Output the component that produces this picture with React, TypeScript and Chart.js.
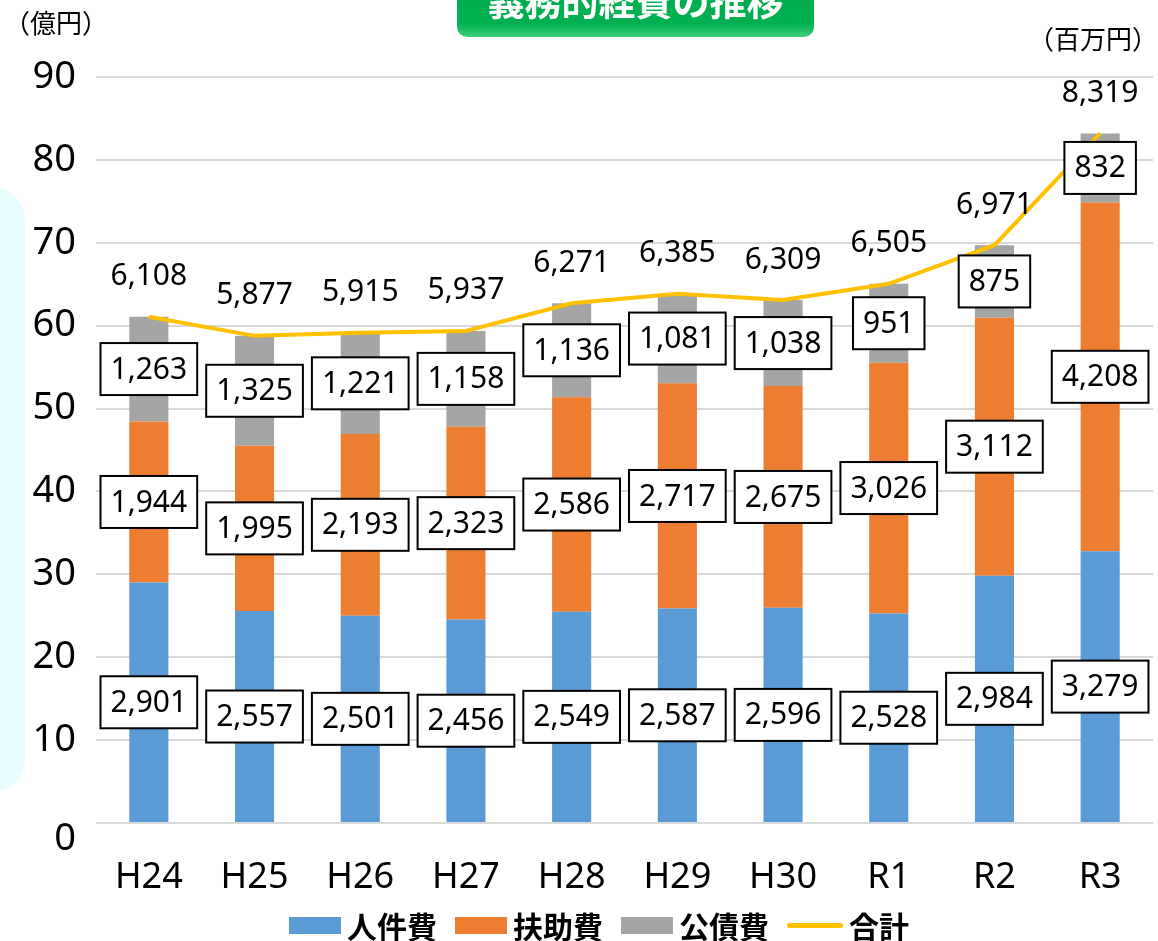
import React, { useEffect, useRef } from "react";
import { Chart, registerables } from "chart.js";

Chart.register(...registerables);

const categories = ["H24", "H25", "H26", "H27", "H28", "H29", "H30", "R1", "R2", "R3"];
const personnel = [2901, 2557, 2501, 2456, 2549, 2587, 2596, 2528, 2984, 3279];
const assistance = [1944, 1995, 2193, 2323, 2586, 2717, 2675, 3026, 3112, 4208];
const debt = [1263, 1325, 1221, 1158, 1136, 1081, 1038, 951, 875, 832];
const totals = [6108, 5877, 5915, 5937, 6271, 6385, 6309, 6505, 6971, 8319];
const seriesNames = ["人件費", "扶助費", "公債費", "合計"];
const seriesColors = ["#5B9BD5", "#ED7D31", "#A5A5A5", "#FFC000"];
const yMin = 0;
const yMax = 90;
const yStep = 10;

const NUM_FONT = '"Noto Sans", "Noto Sans CJK JP", sans-serif';
const JP_FONT = '"Noto Sans CJK JP", "Noto Sans", sans-serif';

const fmt = (v: number) => v.toLocaleString("en-US");
const toOku = (arr: number[]) => arr.map((v) => v / 100);

const labelPlugin = {
  id: "boxLabels",
  afterDatasetsDraw(chart: any) {
    const ctx = chart.ctx as CanvasRenderingContext2D;
    const raws = [personnel, assistance, debt];
    ctx.save();
    ctx.font = `30px ${NUM_FONT}`;
    ctx.textAlign = "center";
    ctx.textBaseline = "middle";
    for (let d = 0; d < 3; d++) {
      const meta = chart.getDatasetMeta(d + 1);
      meta.data.forEach((bar: any, i: number) => {
        const p = bar.getProps(["x", "y", "base"], true);
        const cy = (p.y + p.base) / 2;
        const text = fmt(raws[d][i]);
        const w = ctx.measureText(text).width + 20;
        const h = 52;
        ctx.fillStyle = "#ffffff";
        ctx.fillRect(p.x - w / 2, cy - h / 2, w, h);
        ctx.strokeStyle = "#000000";
        ctx.lineWidth = 2;
        ctx.strokeRect(p.x - w / 2, cy - h / 2, w, h);
        ctx.fillStyle = "#000000";
        ctx.fillText(text, p.x, cy + 1);
      });
    }
    const lm = chart.getDatasetMeta(0);
    ctx.fillStyle = "#000000";
    lm.data.forEach((pt: any, i: number) => {
      const p = pt.getProps(["x", "y"], true);
      ctx.fillText(fmt(totals[i]), p.x, p.y - 40);
    });
    // zero tick label, set slightly below the baseline as in the reference
    const ys = chart.scales.y;
    ctx.font = `38px ${NUM_FONT}`;
    ctx.textAlign = "right";
    ctx.fillText(String(yMin), ys.right - 20, ys.getPixelForValue(yMin) + 16);
    ctx.restore();
  },
};

function ChartCanvas() {
  const ref = useRef<HTMLCanvasElement | null>(null);
  useEffect(() => {
    if (!ref.current) return;
    const chart = new Chart(ref.current, {
      type: "bar",
      data: {
        labels: categories,
        datasets: [
          {
            type: "line",
            label: seriesNames[3],
            data: toOku(totals),
            borderColor: seriesColors[3],
            backgroundColor: seriesColors[3],
            borderWidth: 4,
            pointRadius: 0,
            tension: 0,
            order: 0,
          } as any,
          {
            label: seriesNames[0],
            data: toOku(personnel),
            backgroundColor: seriesColors[0],
            stack: "s",
            order: 1,
          },
          {
            label: seriesNames[1],
            data: toOku(assistance),
            backgroundColor: seriesColors[1],
            stack: "s",
            order: 1,
          },
          {
            label: seriesNames[2],
            data: toOku(debt),
            backgroundColor: seriesColors[2],
            stack: "s",
            order: 1,
          },
        ],
      },
      options: {
        responsive: false,
        animation: false,
        layout: { padding: { left: 0, right: 5, top: 77, bottom: 38 } },
        datasets: {
          bar: { barPercentage: 0.37, categoryPercentage: 1 },
        },
        plugins: {
          legend: { display: false },
          tooltip: { enabled: false },
          title: { display: false },
        },
        scales: {
          x: {
            stacked: true,
            grid: { display: false, drawTicks: false },
            border: { display: false },
            ticks: {
              color: "#000",
              padding: 33,
              font: { family: NUM_FONT, size: 36 },
              maxRotation: 0,
            },
            afterFit: (s: any) => {
              s.height = 80;
            },
          },
          y: {
            stacked: true,
            min: yMin,
            max: yMax,
            grid: { color: "#D9D9D9", lineWidth: 2, drawTicks: false },
            border: { display: false },
            ticks: {
              stepSize: yStep,
              color: "#000",
              padding: 20,
              font: { family: NUM_FONT, size: 38 },
              callback: (v: any) => (Number(v) === yMin ? "" : String(v)),
            },
            afterFit: (s: any) => {
              s.width = 96;
            },
          },
        },
      },
      plugins: [labelPlugin],
    });
    return () => chart.destroy();
  }, []);
  return <canvas ref={ref} width={1158} height={941} style={{ position: "absolute", left: 0, top: 0 }} />;
}

function LegendItem({ i }: { i: number }) {
  const isLine = i === 3;
  return (
    <div style={{ display: "flex", alignItems: "center", marginRight: i === 3 ? 0 : 18 }}>
      {isLine ? (
        <div style={{ width: 56, height: 5, borderRadius: 3, background: seriesColors[i], marginRight: 6 }} />
      ) : (
        <div style={{ width: 52, height: 17, background: seriesColors[i], marginRight: 6 }} />
      )}
      <span style={{ fontFamily: JP_FONT, fontWeight: 700, fontSize: 30, lineHeight: "30px", color: "#000" }}>
        {seriesNames[i]}
      </span>
    </div>
  );
}

export default function App() {
  return (
    <div
      style={{
        position: "fixed",
        left: 0,
        top: 0,
        width: 1158,
        height: 941,
        background: "#fff",
        overflow: "hidden",
      }}
    >
      <div
        style={{
          position: "absolute",
          left: -40,
          top: 187,
          width: 65,
          height: 605,
          borderRadius: 40,
          background: "#E8FEFE",
        }}
      />
      <ChartCanvas />
      <div
        style={{
          position: "absolute",
          left: 457,
          top: -30,
          width: 357,
          height: 67,
          borderRadius: 10,
          background: "linear-gradient(to bottom, #00A94E 0%, #00B050 80%, #3FCF7C 100%)",
          overflow: "hidden",
        }}
      >
        <span
          style={{
            position: "absolute",
            left: 0,
            right: 0,
            top: 12,
            textAlign: "center",
            fontFamily: JP_FONT,
            fontWeight: 700,
            fontSize: 37,
            lineHeight: "37px",
            color: "#fff",
          }}
        >
          義務的経費の推移
        </span>
      </div>
      <div
        style={{
          position: "absolute",
          left: 4,
          top: 6,
          fontFamily: JP_FONT,
          fontSize: 26,
          lineHeight: "32px",
          color: "#000",
        }}
      >
        （億円）
      </div>
      <div
        style={{
          position: "absolute",
          right: 0,
          top: 22,
          fontFamily: JP_FONT,
          fontSize: 26,
          lineHeight: "32px",
          color: "#000",
        }}
      >
        （百万円）
      </div>
      <div
        style={{
          position: "absolute",
          left: 289,
          top: 910,
          height: 30,
          display: "flex",
          alignItems: "center",
        }}
      >
        {[0, 1, 2, 3].map((i) => (
          <LegendItem key={i} i={i} />
        ))}
      </div>
    </div>
  );
}
